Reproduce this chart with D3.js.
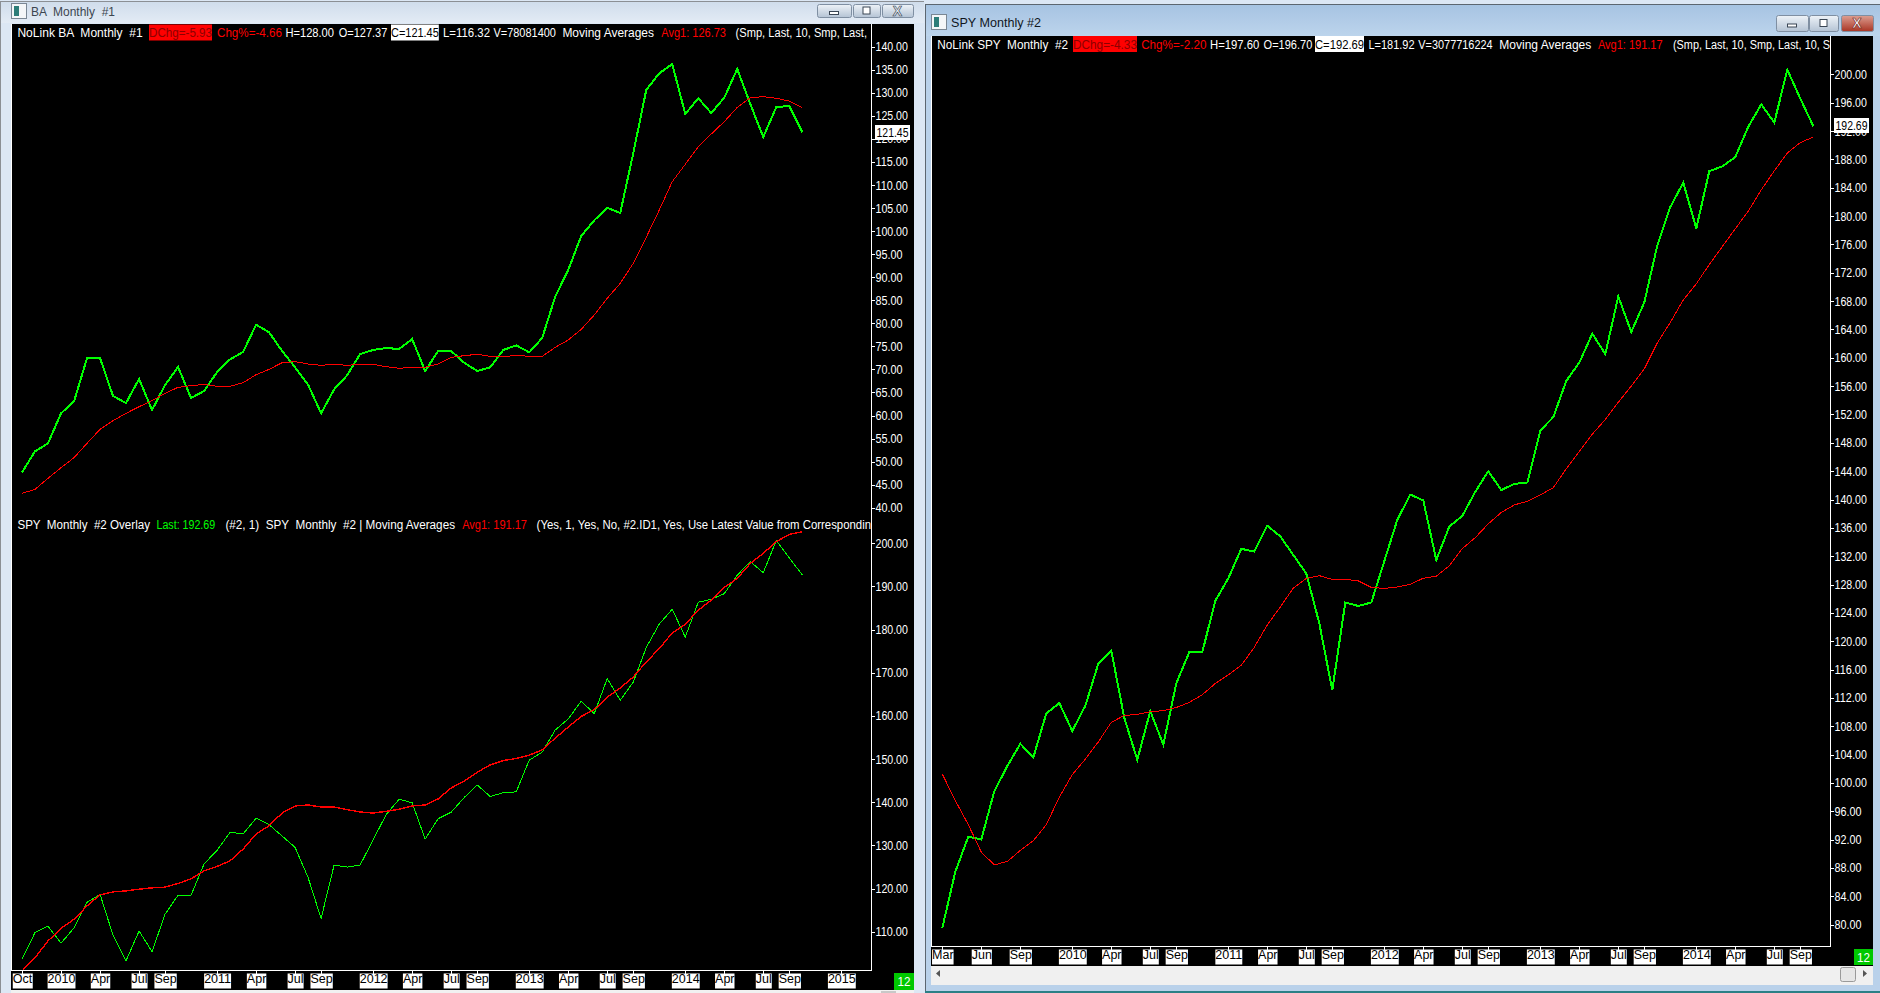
<!DOCTYPE html>
<meta charset="utf-8" />
<title>BA and SPY monthly charts</title>
<style>
  body { margin: 0; background: #dce7f4; }
  svg { display: block; font-family: "Liberation Sans", sans-serif; font-size: 12.5px; }
  text { white-space: pre; }
  .line { fill: none; shape-rendering: crispEdges; }
  .frame { stroke: #fff; stroke-width: 1px; shape-rendering: crispEdges; }
  .tick line { stroke: #fff; shape-rendering: crispEdges; }
  .axis path.domain { display: none; }
  .yaxis text { fill: #fff; }
  .xaxis text { fill: #000; }
</style>

<svg width="1880" height="993"></svg>

<script src="https://d3js.org/d3.v7.min.js"></script>
<script>
// monthly closes and 10 period averages
const baClose = [47.67, 52.22, 53.96, 60.47, 63.07, 72.47, 72.47, 64.23, 62.71, 67.92, 61.19, 66.61, 70.52, 63.79, 65.31, 69.43, 72.18, 73.77, 79.70, 78.04, 73.99, 70.45, 66.69, 60.47, 65.67, 68.71, 73.34, 74.21, 74.64, 74.42, 76.59, 69.65, 73.99, 73.99, 71.46, 69.65, 70.45, 74.21, 75.22, 73.70, 76.81, 85.77, 91.56, 98.93, 102.33, 105.08, 103.92, 116.87, 130.60, 134.22, 136.24, 125.40, 128.80, 125.62, 128.94, 135.16, 127.57, 120.41, 126.92, 127.13, 121.45];
const baAvg = [43.11, 43.98, 46.37, 48.68, 50.85, 53.96, 57.00, 58.88, 60.47, 61.91, 63.21, 64.81, 66.11, 66.47, 66.76, 66.32, 66.32, 67.12, 68.85, 70.01, 71.46, 71.68, 71.17, 70.88, 71.10, 70.88, 71.10, 71.10, 70.59, 70.23, 70.45, 70.45, 71.17, 72.62, 72.98, 73.27, 72.83, 72.76, 73.05, 72.83, 72.83, 74.78, 76.37, 78.69, 81.80, 85.41, 88.67, 93.01, 98.65, 104.57, 110.72, 114.48, 118.31, 121.06, 123.74, 126.84, 128.94, 129.16, 128.80, 128.22, 126.73];
const spyClose = [79.53, 87.45, 92.41, 92.02, 98.83, 102.37, 105.53, 103.59, 109.81, 111.27, 107.33, 110.88, 116.81, 118.66, 109.18, 103.25, 110.15, 105.39, 114.04, 118.46, 118.46, 125.70, 128.86, 133.04, 132.65, 136.30, 134.79, 132.17, 129.54, 122.54, 113.07, 125.46, 124.97, 125.46, 131.29, 137.13, 140.70, 139.87, 131.46, 136.18, 137.69, 141.09, 144.00, 141.33, 142.20, 142.40, 149.74, 151.63, 156.74, 159.31, 163.40, 160.53, 168.65, 163.64, 167.82, 175.84, 181.28, 184.73, 178.27, 186.34, 187.02, 188.33, 192.61, 195.77, 193.19, 200.68, 196.59, 192.69];
const spyAvg = [101.26, 97.51, 94.11, 90.22, 88.43, 88.91, 90.47, 91.83, 94.11, 98.00, 101.16, 103.35, 105.78, 108.55, 109.52, 109.66, 110.05, 110.20, 110.64, 111.37, 112.44, 114.04, 115.25, 116.61, 119.14, 122.30, 124.83, 127.50, 128.86, 129.25, 128.72, 128.72, 128.52, 127.60, 127.45, 127.65, 128.04, 128.89, 129.18, 130.64, 133.07, 134.62, 136.57, 138.17, 139.24, 139.73, 140.65, 141.67, 144.35, 146.78, 149.21, 151.30, 153.73, 156.01, 158.44, 162.09, 165.00, 168.16, 170.44, 173.17, 175.70, 178.22, 180.70, 183.71, 186.39, 188.91, 190.37, 191.17];
// the overlay pane starts 7 months later, Oct 2009
const overlayClose = spyClose.slice(7);
const overlayAvg = [100.88, 103.98, 107.85, 110.79, 112.88, 115.98, 118.53, 119.23, 119.46, 119.85, 120.16, 120.32, 121.17, 122.25, 124.11, 125.12, 126.43, 129.14, 132.63, 134.56, 137.50, 139.13, 139.36, 138.90, 138.90, 138.28, 137.74, 137.50, 137.89, 138.36, 139.13, 139.36, 140.76, 143.31, 144.86, 146.95, 148.65, 149.66, 150.13, 150.90, 152.14, 154.85, 157.40, 159.88, 161.43, 164.37, 166.46, 169.02, 172.50, 175.60, 179.24, 181.25, 184.50, 186.83, 189.77, 191.86, 195.34, 197.67, 200.38, 202.08, 202.70];

const baTicks = d3.range(40, 141, 5);
const overlayTicks = d3.range(110, 201, 10);
const spyTicks = d3.range(80, 201, 4);

const leftMonths = [0, 3, 6, 9, 11, 15, 18, 21, 23, 27, 30, 33, 35, 39, 42, 45, 47, 51, 54, 57, 59, 63];
const leftLabels = ["Oct", "2010", "Apr", "Jul", "Sep", "2011", "Apr", "Jul", "Sep", "2012", "Apr", "Jul", "Sep", "2013", "Apr", "Jul", "Sep", "2014", "Apr", "Jul", "Sep", "2015"];
const rightMonths = [0, 3, 6, 10, 13, 16, 18, 22, 25, 28, 30, 34, 37, 40, 42, 46, 49, 52, 54, 58, 61, 64, 66];
const rightLabels = ["Mar", "Jun", "Sep", "2010", "Apr", "Jul", "Sep", "2011", "Apr", "Jul", "Sep", "2012", "Apr", "Jul", "Sep", "2013", "Apr", "Jul", "Sep", "2014", "Apr", "Jul", "Sep"];

const white = "#fff", red = "#f00", green = "#0f0";

const svg = d3.select("svg");
const defs = svg.append("defs");

function gradient(id, top, bottom) {
  const g = defs.append("linearGradient").attr("id", id).attr("x2", 0).attr("y2", 1);
  g.append("stop").attr("offset", 0).attr("stop-color", top);
  g.append("stop").attr("offset", 1).attr("stop-color", bottom);
}
gradient("inactive", "#cfdceb", "#e3ebf5");
gradient("active", "#a6c3e2", "#bcd4ec");
gradient("btn", "#eef3f8", "#b4c3d4");
gradient("closebtn", "#dd9f92", "#a93423");

function box(x, y, w, h, fill, stroke) {
  return svg.append("rect").attr("x", x).attr("y", y).attr("width", w).attr("height", h)
    .attr("fill", fill).attr("stroke", stroke || "none");
}

// window frames
function drawWindow(o) {
  box(o.x, o.y, o.w, o.h, o.frame);
  box(o.x, o.y, o.w, o.barH, `url(#${o.bar})`);
  box(o.x, o.y, o.w, 1, o.edge);
  box(o.x, o.y, 1, o.h, o.edge);
  box(o.iconX + .5, o.titleY - 12.5, 15, 15, "#f4f6f8", "#7a8794");
  box(o.iconX + 3, o.titleY - 10, 5, 10, "#2d7d78");
  svg.append("text").attr("x", o.titleX).attr("y", o.titleY)
    .attr("fill", o.titleFill).attr("textLength", o.titleW).attr("lengthAdjust", "spacingAndGlyphs")
    .text(o.title);
  o.buttons.forEach((b, i) => {
    const cx = b[0] + b[1] / 2, cy = o.btnY + o.btnH / 2;
    box(b[0] + .5, o.btnY + .5, b[1], o.btnH, i == 2 ? o.closeFill : "url(#btn)", "#7f8fa2").attr("rx", 2);
    if (i == 0) box(cx - 4.5, cy + 1, 9, 3, "#fff", "#3a4654");
    if (i == 1) box(cx - 3.5, cy - 3.5, 7, 7, "#fff", "#3a4654");
    if (i == 2) {
      svg.append("text").attr("x", cx).attr("y", cy + 5).attr("text-anchor", "middle")
        .attr("fill", o.closeText).attr("stroke", o.closeStroke).attr("stroke-width", .6)
        .style("font-weight", "bold").style("font-size", "14px").text("X");
    }
  });
}

box(0, 0, 1880, 993, "#dce7f4");
drawWindow({
  x: 0, y: 1, w: 924, h: 992, barH: 22, frame: "#dce7f4", bar: "inactive", edge: "#8b8f94",
  title: "BA  Monthly  #1", titleX: 31, titleY: 16, titleW: 84, titleFill: "#3c4650", iconX: 11,
  btnY: 4, btnH: 13, closeFill: "url(#btn)", closeText: "#e8eef5", closeStroke: "#3a4654",
  buttons: [[817, 34], [853, 27], [882, 31]]
});
drawWindow({
  x: 925, y: 4, w: 955, h: 989, barH: 32, frame: "#b9d1ea", bar: "active", edge: "#5c6670",
  title: "SPY Monthly #2", titleX: 951, titleY: 27, titleW: 90, titleFill: "#10161c", iconX: 931,
  btnY: 15, btnH: 16, closeFill: "url(#closebtn)", closeText: "#fff", closeStroke: "#702015",
  buttons: [[1776, 32], [1809, 29], [1841, 32]]
});

// black chart areas
box(11, 24, 903, 966, "#000");
box(931, 36, 942, 930, "#000");
// left window scrollbar peeks out under the chart
box(11, 990, 903, 3, "#f1f1f1");
box(881, 991, 15, 2, "#c8c8c8");
// right window scrollbar
box(931, 966, 942, 19, "#f0f0f0");
box(1840.5, 967.5, 15, 14, "#e6e6e6", "#9a9a9a").attr("rx", 2);
svg.append("path").attr("d", "M940 970l-4 3.5 4 3.5z").attr("fill", "#555");
svg.append("path").attr("d", "M1863 970l4 3.5-4 3.5z").attr("fill", "#555");
box(925, 991, 955, 2, "#2c7f86");

// scales, x runs on month index
const leftX = d3.scaleLinear().domain([0, 60]).range([22, 802.3]);
const rightX = d3.scaleLinear().domain([0, 67]).range([942.3, 1813.3]);
const baY = d3.scaleLinear().domain([40, 140]).range([507.7, 46.7]);
const overlayY = d3.scaleLinear().domain([110, 200]).range([931.7, 543.3]);
const spyY = d3.scaleLinear().domain([80, 200]).range([924.6, 74.4]);

function drawLine(values, x, y, color, width) {
  const line = d3.line().x((d, i) => x(i)).y(d => y(d));
  svg.append("path").attr("class", "line").attr("d", line(values))
    .attr("stroke", color).attr("stroke-width", width);
}

drawLine(baClose, leftX, baY, green, 2);
drawLine(baAvg, leftX, baY, red, 1);
drawLine(overlayClose, leftX, overlayY, green, 1);
drawLine(overlayAvg, leftX, overlayY, red, 1.4);
drawLine(spyClose, rightX, spyY, green, 2);
drawLine(spyAvg, rightX, spyY, red, 1);

function frameLines(left, right, top, bottom) {
  [[left, top, left, bottom], [right, top, right, bottom], [left, bottom, right, bottom]].forEach(l => {
    svg.append("line").attr("class", "frame")
      .attr("x1", l[0]).attr("y1", l[1]).attr("x2", l[2]).attr("y2", l[3]);
  });
}
frameLines(11.5, 871.5, 24, 970.5);
frameLines(931.5, 1830.5, 36, 946.5);

function drawYAxis(scale, ticks, x) {
  const g = svg.append("g").attr("class", "axis yaxis").attr("transform", `translate(${x},0)`)
    .call(d3.axisRight(scale).tickValues(ticks).tickFormat(d3.format(".2f")).tickSize(3).tickPadding(1));
  g.selectAll("text")
    .attr("textLength", d => d3.format(".2f")(d).length * 5.4)
    .attr("lengthAdjust", "spacingAndGlyphs");
  g.style("font-size", "12.5px").style("font-family", "inherit");
}
drawYAxis(baY, baTicks, 871.5);
drawYAxis(overlayY, overlayTicks, 871.5);
drawYAxis(spyY, spyTicks, 1830.5);

function drawXAxis(scale, months, labels, y) {
  const g = svg.append("g").attr("class", "axis xaxis").attr("transform", `translate(0,${y})`)
    .call(d3.axisBottom(scale).tickValues(months).tickFormat((d, i) => labels[i]).tickSize(3).tickPadding(1));
  g.style("font-size", "12.5px").style("font-family", "inherit");
  g.selectAll(".tick").each(function () {
    const t = d3.select(this), b = t.select("text").node().getBBox();
    t.insert("rect", "text").attr("x", b.x).attr("y", 3).attr("width", b.width).attr("height", 15).attr("fill", white);
  });
}
drawXAxis(leftX, leftMonths, leftLabels, 970.5);
drawXAxis(rightX, rightMonths, rightLabels, 946.5);

// last value flags and the little green badges
function flag(x, y, w, h, fill, color, label, tw) {
  box(x, y, w, h, fill);
  svg.append("text").attr("x", x + w / 2).attr("y", y + h / 2 + 4.5).attr("text-anchor", "middle")
    .attr("fill", color).attr("textLength", tw).attr("lengthAdjust", "spacingAndGlyphs").text(label);
}
flag(875, 125, 35, 15, white, "#000", d3.format(".2f")(baClose[60]), 32);
flag(1834, 118, 35, 15, white, "#000", d3.format(".2f")(spyClose[67]), 32);
flag(894, 973, 20, 17, "#00c800", white, "12", 13);
flag(1854, 949, 19, 16, "#00c800", white, "12", 13);

// header strips: text, left, right, colour, background
const baHeader = [
  ["NoLink BA  Monthly  #1", 17.4, 142.7, white],
  ["DChg=-5.93", 149, 212, "#8c0000", red],
  ["Chg%=-4.66", 217, 282, red],
  ["H=128.00", 285.4, 334, white],
  ["O=127.37", 338.7, 387.3, white],
  ["C=121.45", 391, 438.8, "#000", white],
  ["L=116.32", 443, 490, white],
  ["V=78081400", 493.4, 556, white],
  ["Moving Averages", 562.4, 654, white],
  ["Avg1: 126.73", 661.3, 726, red],
  ["(Smp, Last, 10, Smp, Last,", 735.6, 867, white]
];
const overlayHeader = [
  ["SPY  Monthly  #2 Overlay", 17.4, 150, white],
  ["Last: 192.69", 156.5, 215.2, green],
  ["(#2, 1)  SPY  Monthly  #2 | Moving Averages", 225.4, 455, white],
  ["Avg1: 191.17", 462.2, 527, red],
  ["(Yes, 1, Yes, No, #2.ID1, Yes, Use Latest Value from Correspondin", 536.6, 871, white]
];
const spyHeader = [
  ["NoLink SPY  Monthly  #2", 937.2, 1068, white],
  ["DChg=-4.33", 1073, 1137, "#8c0000", red],
  ["Chg%=-2.20", 1141.2, 1206.4, red],
  ["H=197.60", 1210, 1259.3, white],
  ["O=196.70", 1263.6, 1312.3, white],
  ["C=192.69", 1315, 1364, "#000", white],
  ["L=181.92", 1368.4, 1414.6, white],
  ["V=3077716224", 1418.3, 1492.6, white],
  ["Moving Averages", 1499.3, 1591.3, white],
  ["Avg1: 191.17", 1598, 1662.5, red],
  ["(Smp, Last, 10, Smp, Last, 10, S", 1673, 1830, white]
];

function drawHeader(items, y) {
  items.forEach(d => {
    if (d[4]) box(d[1], y - 8, d[2] - d[1], 16, d[4]);
    svg.append("text").attr("x", d[1]).attr("y", y + 4.5).attr("fill", d[3])
      .attr("textLength", d[2] - d[1]).attr("lengthAdjust", "spacingAndGlyphs").text(d[0]);
  });
}
drawHeader(baHeader, 32.5);
drawHeader(overlayHeader, 524.5);
drawHeader(spyHeader, 44);
</script>
